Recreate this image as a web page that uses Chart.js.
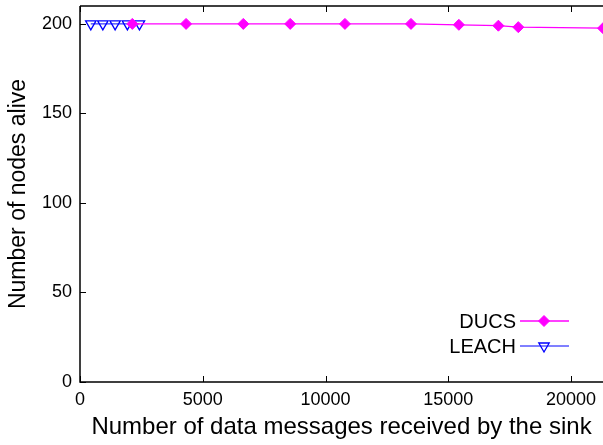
<!DOCTYPE html>
<html>
<head>
<meta charset="utf-8">
<script src="https://cdn.jsdelivr.net/npm/chart.js@4/dist/chart.umd.min.js"></script>
<style>
  html, body { margin: 0; padding: 0; background: #fff; overflow: hidden; }
  #c { display: block; }
</style>
</head>
<body>
<canvas id="c" width="603" height="445"></canvas>
<script>
// ---- Data ----
const ducsX = [2130, 4320, 6650, 8560, 10790, 13480, 15430, 17040, 17850, 21300];
const ducsY = [200, 200, 200, 200, 200, 200, 199.5, 199, 198.2, 197.6];
const leachX = [440, 930, 1430, 1930, 2420];
const leachY = [200, 200, 200, 200, 200];
const xTicks = [0, 5000, 10000, 15000, 20000];
const yTicks = [0, 50, 100, 150, 200];
const seriesNames = ['DUCS', 'LEACH'];
const xTitle = 'Number of data messages received by the sink';
const yTitle = 'Number of nodes alive';

const FONT = '"Liberation Sans", Arial, Helvetica, sans-serif';

const framePlugin = {
  id: 'frame',
  beforeDatasetsDraw(chart) {
    const { ctx, chartArea: a, scales } = chart;
    ctx.save();
    ctx.strokeStyle = '#000';
    ctx.lineWidth = 1.5;
    ctx.beginPath();
    ctx.moveTo(a.left, a.top); ctx.lineTo(a.right + 2, a.top);
    ctx.moveTo(a.left, a.top); ctx.lineTo(a.left, a.bottom);
    ctx.lineTo(a.right + 2, a.bottom);
    ctx.stroke();
    ctx.lineWidth = 1;
    ctx.beginPath();
    xTicks.forEach(v => {
      const px = Math.round(scales.x.getPixelForValue(v)) + 0.5;
      ctx.moveTo(px, a.bottom); ctx.lineTo(px, a.bottom - 6);
      ctx.moveTo(px, a.top); ctx.lineTo(px, a.top + 6);
    });
    yTicks.forEach(v => {
      const py = Math.round(scales.y.getPixelForValue(v)) + 0.5;
      ctx.moveTo(a.left, py); ctx.lineTo(a.left + 6, py);
    });
    ctx.stroke();
    ctx.restore();
  },
  afterDatasetsDraw(chart) {
    const { ctx } = chart;
    ctx.save();
    ctx.font = '20px ' + FONT;
    ctx.textAlign = 'right';
    ctx.textBaseline = 'middle';
    const rows = [
      { y: 321, ds: chart.data.datasets[0] },
      { y: 346, ds: chart.data.datasets[1] }
    ];
    rows.forEach(r => {
      ctx.fillStyle = '#000';
      ctx.fillText(r.ds.label, 516, r.y + 1);
      ctx.strokeStyle = r.ds.borderColor;
      ctx.lineWidth = r.ds.borderWidth;
      ctx.beginPath();
      ctx.moveTo(520, r.y); ctx.lineTo(569, r.y);
      ctx.stroke();
      ctx.fillStyle = r.ds.pointBackgroundColor;
      ctx.strokeStyle = r.ds.pointBorderColor;
      ctx.lineWidth = r.ds.pointBorderWidth || 1;
      Chart.helpers.drawPoint(ctx, {
        pointStyle: r.ds.pointStyle,
        rotation: r.ds.pointRotation || 0,
        radius: r.ds.pointRadius,
        borderWidth: r.ds.pointBorderWidth || 1
      }, 544, r.y);
    });
    ctx.restore();
  }
};

new Chart(document.getElementById('c'), {
  type: 'scatter',
  data: {
    datasets: [
      {
        label: seriesNames[0],
        data: ducsX.map((x, i) => ({ x, y: ducsY[i] })),
        showLine: true,
        borderColor: '#ff00ff',
        backgroundColor: '#ff00ff',
        borderWidth: 1.3,
        pointStyle: 'rectRot',
        pointRadius: 5.5,
        pointBackgroundColor: '#ff00ff',
        pointBorderColor: '#ff00ff',
        pointBorderWidth: 1
      },
      {
        label: seriesNames[1],
        data: leachX.map((x, i) => ({ x, y: leachY[i] })),
        showLine: true,
        borderColor: '#0000ff',
        backgroundColor: 'rgba(0,0,0,0)',
        borderWidth: 1,
        pointStyle: 'triangle',
        pointRotation: 180,
        pointRadius: 6,
        pointBackgroundColor: 'rgba(0,0,0,0)',
        pointBorderColor: '#0000ff',
        pointBorderWidth: 1.3
      }
    ]
  },
  options: {
    responsive: false,
    animation: false,
    devicePixelRatio: 1,
    layout: { autoPadding: false, padding: { top: 6, right: 0, left: 0, bottom: 0 } },
    plugins: { legend: { display: false }, tooltip: { enabled: false } },
    scales: {
      x: {
        type: 'linear',
        min: 0,
        max: 21300,
        afterBuildTicks: s => { s.ticks = xTicks.map(v => ({ value: v })); },
        afterFit: s => { s.height = 63; s.paddingLeft = 0; s.paddingRight = 0; },
        grid: { display: false, drawTicks: false },
        border: { display: false },
        ticks: { color: '#000', font: { family: FONT, size: 18 }, padding: 7, maxRotation: 0,
                 callback: v => String(v) },
        title: { display: true, text: xTitle, color: '#000', font: { family: FONT, size: 24 }, padding: { top: 0, bottom: 3 } }
      },
      y: {
        type: 'linear',
        min: 0,
        max: 210,
        afterBuildTicks: s => { s.ticks = yTicks.map(v => ({ value: v })); },
        afterFit: s => { s.width = 80; s.paddingTop = 0; s.paddingBottom = 0; },
        grid: { display: false, drawTicks: false },
        border: { display: false },
        ticks: { color: '#000', font: { family: FONT, size: 18 }, padding: 8,
                 callback: v => String(v) },
        title: { display: true, text: yTitle, color: '#000', font: { family: FONT, size: 23 }, padding: { top: 5, bottom: 0 } }
      }
    }
  },
  plugins: [framePlugin]
});
</script>
</body>
</html>
